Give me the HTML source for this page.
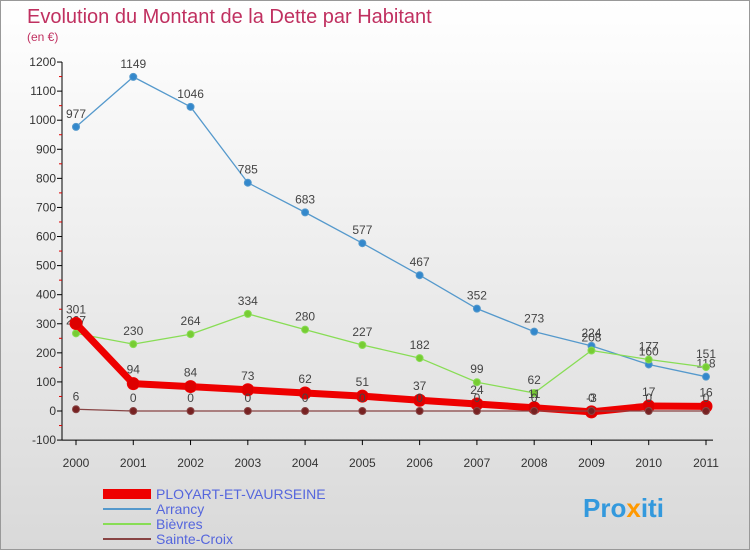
<!DOCTYPE html>
<html><head><meta charset="utf-8"><style>
body{margin:0;width:750px;height:550px;overflow:hidden;font-family:"Liberation Sans",sans-serif}
#wrap{position:absolute;left:0;top:0;width:748px;height:548px;border:1px solid #999;background:linear-gradient(#fff,#d9d9d9)}
</style></head><body>
<div id="wrap">
<svg id="chart" width="750" height="550">
<text x="26" y="22" font-size="20" fill="#c03060">Evolution du Montant de la Dette par Habitant</text>
<text x="26" y="40" font-size="12" fill="#c03060">(en €)</text>
<g id="axes"></g><g id="series"></g>
<g>
<rect x="102" y="488" width="48" height="10" fill="#ee0000"/>
<text x="155" y="498" font-size="14" fill="#5566dd">PLOYART-ET-VAURSEINE</text>
<line x1="102" y1="508" x2="150" y2="508" stroke="#5599cc" stroke-width="2"/>
<text x="155" y="513" font-size="14" fill="#5566dd">Arrancy</text>
<line x1="102" y1="523" x2="150" y2="523" stroke="#88dd55" stroke-width="2"/>
<text x="155" y="528" font-size="14" fill="#5566dd">Bièvres</text>
<line x1="102" y1="538" x2="150" y2="538" stroke="#884444" stroke-width="2"/>
<text x="155" y="543" font-size="14" fill="#5566dd">Sainte-Croix</text>
</g>
<text x="582" y="516" font-size="26" font-weight="bold" fill="#3399dd">Pro<tspan fill="#ff9900">x</tspan>iti</text>
</svg></div>
<script>
const years=[2000,2001,2002,2003,2004,2005,2006,2007,2008,2009,2010,2011];
const yTicks=[-100,0,100,200,300,400,500,600,700,800,900,1000,1100,1200];
const ployart=[301,94,84,73,62,51,37,24,11,-3,17,16];
const arrancy=[977,1149,1046,785,683,577,467,352,273,224,160,118];
const bievres=[267,230,264,334,280,227,182,99,62,208,177,151];
const sainteCroix=[6,0,0,0,0,0,0,0,0,0,0,0];
const NS="http://www.w3.org/2000/svg";
const xS=i=>75+i*(630/11);
const yS=v=>410-v*0.2908;
function mk(p,t,a){const e=document.createElementNS(NS,t);for(const k in a)e.setAttribute(k,a[k]);p.appendChild(e);return e;}
const ax=document.getElementById('axes'),sr=document.getElementById('series');
let l=mk(ax,'line',{x1:61,y1:yS(1200),x2:61,y2:yS(-100),stroke:'#000'});


l=mk(ax,'line',{x1:61,y1:yS(-100),x2:712,y2:yS(-100),stroke:'#000'});


yTicks.forEach(v=>{
 mk(ax,'line',{x1:56,y1:yS(v),x2:61,y2:yS(v),stroke:'#000'});
 if(v<1200)mk(ax,'line',{x1:58,y1:yS(v+50),x2:61,y2:yS(v+50),stroke:'#d00'});
 const t=mk(ax,'text',{x:55,y:yS(v)+4,'font-size':12,'text-anchor':'end',fill:'#333'});
 t.textContent=v;
 
 
});
years.forEach((y,i)=>{
 mk(ax,'line',{x1:xS(i),y1:yS(-100),x2:xS(i),y2:yS(-100)+5,stroke:'#000'});
 const t=mk(ax,'text',{x:xS(i),y:466,'font-size':12,'text-anchor':'middle',fill:'#333'});
 t.textContent=y;
 
 
});
function series(d,name,color,w,r,dot,labOff){
 const g=mk(sr,'g',{});
 
 
 const p=mk(g,'polyline',{points:d.map((v,i)=>xS(i)+','+yS(v)).join(' '),fill:'none',stroke:color,'stroke-width':w,'stroke-linejoin':'round'});
 
 
 d.forEach((v,i)=>{
  const c=mk(g,'circle',{cx:xS(i),cy:yS(v),r:r,fill:dot,stroke:color,'stroke-width':1});
  
  
  const t=mk(g,'text',{x:xS(i),y:yS(v)+labOff,'font-size':12,'text-anchor':'middle',fill:'#444'});
  t.textContent=v;
  
  
 });
}
series(arrancy,'arrancy','#5599cc',1.3,3.5,'#3388cc',-9);
series(bievres,'bievres','#88dd55',1.3,3.5,'#77cc33',-9);
series(ployart,'ployart','#ee0000',7,6,'#dd0000',-10);
series(sainteCroix,'sainte-croix','#884444',1.3,3.5,'#772222',-9);
</script>
</body></html>
